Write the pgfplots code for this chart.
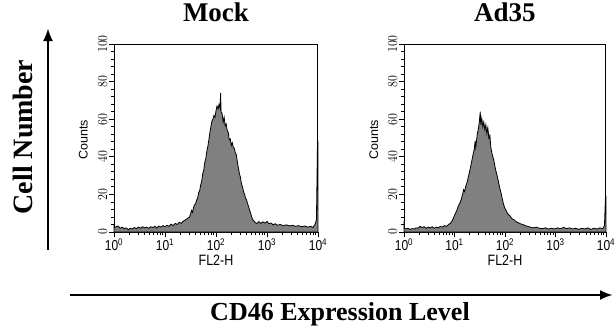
\documentclass[border=0pt]{standalone}
\usepackage{pgfplots}
\pgfplotsset{compat=1.18}
\usepackage{fontspec}
\setmainfont{Liberation Serif}
\newfontfamily\arial{Liberation Sans}
\usetikzlibrary{arrows.meta}

\pgfplotstableread{
e c
0.00 3.5
0.02 2.4
0.04 2.8
0.08 3.2
0.12 2.0
0.16 2.6
0.20 1.8
0.24 2.2
0.28 1.2
0.32 2.0
0.36 1.6
0.40 2.4
0.44 1.8
0.48 2.6
0.52 2.0
0.56 2.8
0.60 2.2
0.64 2.6
0.68 2.0
0.72 2.8
0.76 2.4
0.80 3.0
0.84 2.2
0.88 3.2
0.92 2.6
0.96 3.4
1.00 2.8
1.04 3.6
1.08 3.0
1.12 4.2
1.16 3.4
1.20 4.6
1.24 4.0
1.28 5.2
1.32 4.6
1.36 5.8
1.40 6.4
1.44 7.2
1.48 8.0
1.50 9.5
1.52 11.5
1.54 10.5
1.56 13.0
1.58 14.5
1.60 15.0
1.62 17.0
1.64 18.0
1.66 21.0
1.68 22.0
1.70 25.0
1.72 27.0
1.74 31.0
1.76 33.0
1.78 37.0
1.80 39.0
1.82 43.0
1.84 45.5
1.86 49.0
1.88 53.0
1.90 56.0
1.92 59.0
1.94 60.0
1.96 62.0
1.98 61.0
2.00 64.5
2.02 67.0
2.04 65.5
2.06 68.0
2.08 66.0
2.09 74.0
2.10 64.0
2.12 63.0
2.14 58.5
2.16 61.0
2.18 56.5
2.20 57.5
2.22 54.0
2.24 53.0
2.26 49.0
2.28 49.5
2.30 46.0
2.32 47.5
2.34 45.0
2.36 44.5
2.38 42.0
2.40 41.0
2.42 37.0
2.44 34.0
2.46 31.0
2.48 29.0
2.50 25.5
2.52 24.0
2.54 21.5
2.56 20.0
2.58 18.0
2.60 17.0
2.62 15.0
2.64 13.5
2.66 11.5
2.68 10.0
2.70 8.0
2.72 6.5
2.74 6.0
2.77 5.0
2.80 4.5
2.84 5.5
2.88 4.6
2.92 5.4
2.96 4.8
3.00 5.6
3.04 4.4
3.08 4.8
3.12 3.8
3.16 4.4
3.20 3.6
3.26 4.0
3.32 3.4
3.38 3.8
3.44 3.2
3.50 3.6
3.56 3.0
3.62 3.4
3.68 2.8
3.74 3.2
3.80 2.6
3.86 3.0
3.90 2.4
3.94 4.0
3.97 6.5
3.99 48
4.00 48
}\mock

\pgfplotstableread{
e c
0.00 6.0
0.01 2.0
0.04 1.6
0.08 2.0
0.12 1.4
0.16 1.8
0.20 1.6
0.24 2.2
0.28 2.0
0.32 3.0
0.36 2.4
0.40 2.8
0.44 2.0
0.48 2.6
0.52 2.2
0.56 2.8
0.60 2.0
0.64 2.6
0.68 2.2
0.72 3.0
0.76 2.6
0.80 3.4
0.84 3.0
0.88 4.0
0.92 4.6
0.95 5.8
0.98 7.5
1.01 9.5
1.04 11.0
1.07 13.5
1.10 15.0
1.13 17.0
1.16 20.0
1.18 22.5
1.20 21.5
1.22 24.0
1.25 26.5
1.28 30.0
1.31 33.5
1.34 37.5
1.37 41.5
1.39 44.0
1.41 48.5
1.42 45.0
1.43 47.0
1.45 52.0
1.47 54.5
1.49 58.0
1.51 64.0
1.52 57.0
1.54 60.5
1.56 56.0
1.58 58.5
1.60 54.5
1.62 57.0
1.64 52.5
1.66 55.5
1.68 50.0
1.70 51.5
1.72 45.0
1.74 42.0
1.76 40.0
1.78 38.0
1.80 35.0
1.82 32.5
1.84 30.5
1.86 28.0
1.88 25.5
1.90 23.0
1.92 21.0
1.94 18.5
1.96 16.0
1.98 14.0
2.00 12.5
2.03 11.0
2.06 9.5
2.10 8.5
2.14 7.0
2.18 6.5
2.22 5.5
2.26 5.0
2.30 4.4
2.35 4.0
2.40 3.4
2.45 3.0
2.50 2.6
2.56 2.2
2.62 2.6
2.68 2.0
2.74 1.8
2.80 2.2
2.86 1.6
2.92 2.0
2.98 1.6
3.04 2.2
3.10 1.8
3.16 2.4
3.22 1.8
3.28 2.2
3.34 1.6
3.40 2.0
3.46 1.4
3.52 2.0
3.58 1.6
3.64 2.2
3.70 1.4
3.76 2.0
3.82 1.6
3.88 2.2
3.94 1.8
3.97 3.5
3.99 19
4.00 19
}\adtf

\pgfplotsset{
  facs/.style={
    scale only axis, width=204pt, height=188pt, anchor=south west,
    xmin=0, xmax=4, ymin=0, ymax=100,
    axis line style={line width=1pt},
    tick align=outside, xtick pos=left, ytick pos=left,
    major tick length=5pt, minor tick length=3pt,
    every tick/.style={black, line width=0.8pt},
    xtick={0,1,2,3,4},
    xticklabels={10\textsuperscript{0},10\textsuperscript{1},10\textsuperscript{2},10\textsuperscript{3},10\textsuperscript{4}},
    minor xtick={0.301,0.477,0.602,0.699,0.778,0.845,0.903,0.954,
      1.301,1.477,1.602,1.699,1.778,1.845,1.903,1.954,
      2.301,2.477,2.602,2.699,2.778,2.845,2.903,2.954,
      3.301,3.477,3.602,3.699,3.778,3.845,3.903,3.954},
    ytick={0,20,40,60,80,100},
    minor ytick={4,8,12,16,24,28,32,36,44,48,52,56,64,68,72,76,84,88,92,96},
    xticklabel style={font=\arial\fontsize{12}{12}\selectfont, yscale=1.2, inner sep=1pt},
    yticklabel style={font=\arial\fontsize{11.5}{11.5}\selectfont, rotate=90, yscale=1.15, anchor=south, inner sep=1.5pt},
    xlabel={FL2-H}, ylabel={Counts},
    xlabel style={font=\arial\fontsize{12.5}{12.5}\selectfont, yscale=1.2, at={(axis description cs:0.5,-0.15)}, anchor=center},
    ylabel style={font=\arial\fontsize{12.5}{12.5}\selectfont, at={(axis description cs:-0.15,0.49)}, anchor=center},
    title style={font=\bfseries\fontsize{27}{27}\selectfont, at={(axis description cs:0.5,1)}, anchor=base, yshift=17pt},
    clip=false,
  }
}

\begin{document}
\begin{tikzpicture}[x=1pt,y=1pt]
\path[use as bounding box] (0,0) rectangle (614,325);
\begin{axis}[facs, at={(114pt,93pt)}, title={Mock}]
\addplot[draw=black, line width=0.8pt, fill=gray] table[x=e,y=c]{\mock} \closedcycle;
\end{axis}
\begin{axis}[facs, at={(404pt,93pt)}, width=202pt, title={Ad35}]
\addplot[draw=black, line width=0.8pt, fill=gray] table[x=e,y=c]{\adtf} \closedcycle;
\end{axis}
\draw[line width=2.6pt, -{Latex[length=13pt,width=10pt]}] (48,75) -- (48,297);
\node[rotate=90, font=\bfseries\fontsize{28}{28}\selectfont] at (23,188) {Cell Number};
\draw[line width=2.6pt, -{Latex[length=13pt,width=10pt]}] (70,30) -- (613,30);
\node[anchor=base, font=\bfseries\fontsize{26}{26}\selectfont] at (340,5) {CD46 Expression Level};
\end{tikzpicture}
\end{document}
